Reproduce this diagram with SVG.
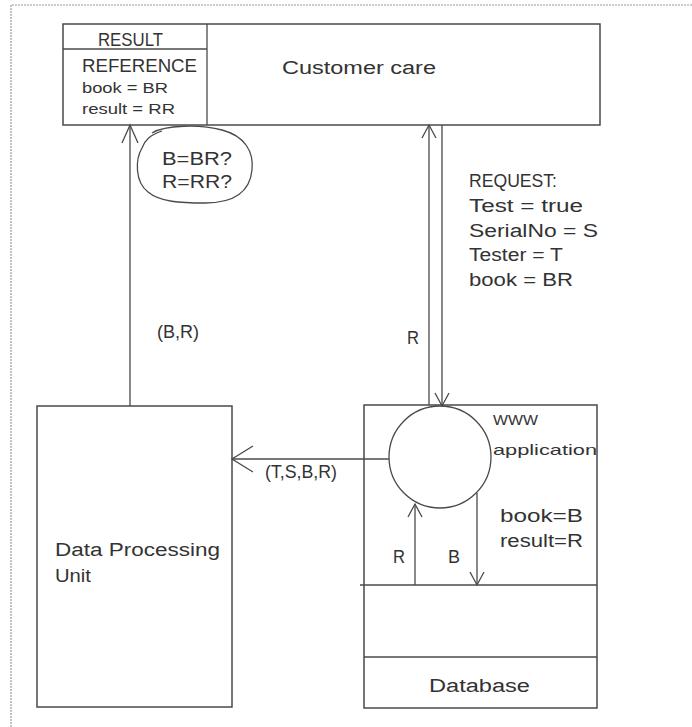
<svg xmlns="http://www.w3.org/2000/svg" width="692" height="727" viewBox="0 0 692 727">
<style>
  .ln { fill: none; stroke: #4a4a4a; stroke-width: 1.3; }
  .box { fill: #ffffff; stroke: #4a4a4a; stroke-width: 1.5; }
  .frame { fill: none; stroke: #9a9a9a; stroke-width: 1.2; stroke-dasharray: 2 1; }
  text { font-family: "Liberation Sans", Arial, sans-serif; fill: #333333; font-size: 18px; }
  .sm { font-size: 15px; }
</style>
<defs>
  <marker id="hS" markerUnits="userSpaceOnUse" viewBox="-14 -8 16 16" refX="0" refY="0" markerWidth="16" markerHeight="16" orient="auto">
    <path d="M -13,-7 L 0,0 L -13,7" fill="none" stroke="#4a4a4a" stroke-width="1.3"/>
  </marker>
  <marker id="hM" markerUnits="userSpaceOnUse" viewBox="-20 -10 22 20" refX="0" refY="0" markerWidth="22" markerHeight="20" orient="auto">
    <path d="M -18,-8 L 0,0 L -18,8" fill="none" stroke="#4a4a4a" stroke-width="1.3"/>
  </marker>
  <marker id="hL" markerUnits="userSpaceOnUse" viewBox="-23 -15 25 30" refX="0" refY="0" markerWidth="25" markerHeight="30" orient="auto">
    <path d="M -21,-13 L 0,0 L -21,13" fill="none" stroke="#4a4a4a" stroke-width="1.3"/>
  </marker>
</defs>
<rect width="692" height="727" fill="#ffffff"/>
<path class="frame" d="M 11,727 L 11,5 L 692,5"/>

<g id="node-customer-care">
  <rect class="box" x="63" y="24" width="537" height="101"/>
  <line class="ln" x1="207" y1="24" x2="207" y2="125"/>
  <line class="ln" x1="63" y1="49" x2="207" y2="49"/>
  <text x="98" y="46" font-size="17" textLength="65" lengthAdjust="spacingAndGlyphs">RESULT</text>
  <text x="82" y="72" textLength="115" lengthAdjust="spacingAndGlyphs">REFERENCE</text>
  <text class="sm" x="82" y="93" textLength="86" lengthAdjust="spacingAndGlyphs">book = BR</text>
  <text class="sm" x="82" y="114" textLength="93" lengthAdjust="spacingAndGlyphs">result  = RR</text>
  <text x="282" y="74" textLength="154" lengthAdjust="spacingAndGlyphs">Customer care</text>
</g>

<g id="node-check">
  <path class="ln" d="M 152,133 C 165,125 200,124 222,130 C 245,136 254,152 252,170 C 250,190 236,203 205,203 C 180,203 160,202 148,192 C 135,182 135,160 142,148 C 145,140 150,135 162,131"/>
  <text x="162" y="165" textLength="70" lengthAdjust="spacingAndGlyphs">B=BR?</text>
  <text x="162" y="188" textLength="70" lengthAdjust="spacingAndGlyphs">R=RR?</text>
</g>

<g id="node-dpu">
  <rect class="box" x="37" y="406" width="195" height="301"/>
  <text x="55" y="556" textLength="165" lengthAdjust="spacingAndGlyphs">Data Processing</text>
  <text x="55" y="582" textLength="36" lengthAdjust="spacingAndGlyphs">Unit</text>
</g>

<g id="node-database">
  <rect class="box" x="364" y="405" width="233" height="303"/>
  <line class="ln" x1="360" y1="585" x2="597" y2="585"/>
  <line class="ln" x1="364" y1="657" x2="597" y2="657"/>
  <text x="429" y="692" textLength="101" lengthAdjust="spacingAndGlyphs">Database</text>
  <text x="500" y="522" textLength="83" lengthAdjust="spacingAndGlyphs">book=B</text>
  <text x="500" y="547" textLength="83" lengthAdjust="spacingAndGlyphs">result=R</text>
</g>

<g id="node-www">
  <circle class="ln" cx="440" cy="457" r="51" fill="#ffffff"/>
  <text class="sm" x="493" y="425" textLength="45" lengthAdjust="spacingAndGlyphs">WWW</text>
  <text class="sm" x="493" y="455" textLength="104" lengthAdjust="spacingAndGlyphs">application</text>
</g>

<g id="connectors">
  <line class="ln" x1="130" y1="406" x2="130" y2="125" marker-end="url(#hM)"/>
  <line class="ln" x1="429" y1="405" x2="429" y2="125" marker-end="url(#hS)"/>
  <line class="ln" x1="442" y1="125" x2="442" y2="406" marker-end="url(#hS)"/>
  <line class="ln" x1="389" y1="459" x2="232" y2="459" marker-end="url(#hL)"/>
  <line class="ln" x1="415" y1="585" x2="415" y2="504" marker-end="url(#hS)"/>
  <line class="ln" x1="477" y1="493" x2="477" y2="585" marker-end="url(#hS)"/>
</g>

<g id="connector-labels">
  <text x="157" y="338" textLength="42" lengthAdjust="spacingAndGlyphs">(B,R)</text>
  <text x="407" y="344" textLength="12" lengthAdjust="spacingAndGlyphs">R</text>
  <text x="469" y="187" textLength="88" lengthAdjust="spacingAndGlyphs">REQUEST:</text>
  <text x="469" y="212" textLength="114" lengthAdjust="spacingAndGlyphs">Test = true</text>
  <text x="469" y="237" textLength="129" lengthAdjust="spacingAndGlyphs">SerialNo = S</text>
  <text x="469" y="261" textLength="94" lengthAdjust="spacingAndGlyphs">Tester = T</text>
  <text x="469" y="286" textLength="104" lengthAdjust="spacingAndGlyphs">book = BR</text>
  <text x="265" y="478" textLength="72" lengthAdjust="spacingAndGlyphs">(T,S,B,R)</text>
  <text x="393" y="563" textLength="12" lengthAdjust="spacingAndGlyphs">R</text>
  <text x="448" y="563" textLength="12" lengthAdjust="spacingAndGlyphs">B</text>
</g>
</svg>
